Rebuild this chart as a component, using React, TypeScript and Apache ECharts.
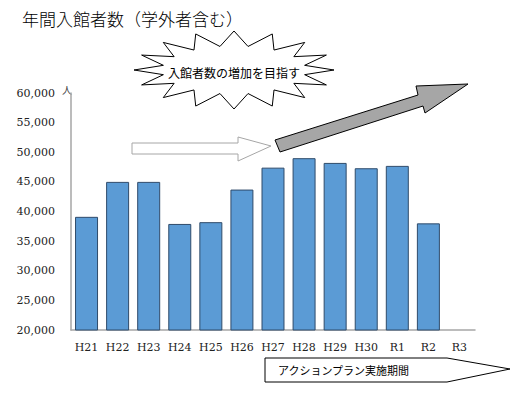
import React, { useEffect, useRef } from "react";
import * as echarts from "echarts";

const categories = ["H21", "H22", "H23", "H24", "H25", "H26", "H27", "H28", "H29", "H30", "R1", "R2", "R3"];
const visitors: (number | null)[] = [39100, 45000, 45000, 37900, 38200, 43700, 47400, 49000, 48200, 47300, 47700, 38000, null];
const yMin = 20000;
const yMax = 60000;
const yInterval = 5000;
const titleText = "年間入館者数（学外者含む）";
const burstText = "入館者数の増加を目指す";
const periodText = "アクションプラン実施期間";
const unitText = "人";

function starPoints(cx: number, cy: number, rxo: number, ryo: number, rxi: number, ryi: number, n: number) {
  const pts: number[][] = [];
  for (let i = 0; i < n * 2; i++) {
    const a = (Math.PI * i) / n - Math.PI / 2;
    const outer = i % 2 === 0;
    const rx = outer ? rxo : rxi;
    const ry = outer ? ryo : ryi;
    pts.push([cx + rx * Math.cos(a), cy + ry * Math.sin(a)]);
  }
  return pts;
}

export default function App() {
  const ref = useRef<HTMLDivElement>(null);
  useEffect(() => {
    if (!ref.current) return;
    const chart = echarts.init(ref.current, undefined, { renderer: "svg" });
    const serif = "DejaVu Serif";
    const cjk = "Noto Sans CJK JP";
    chart.setOption({
      animation: false,
      backgroundColor: "#ffffff",
      grid: { left: 71, right: 54, top: 93, bottom: 67 },
      xAxis: {
        type: "category",
        data: categories,
        axisTick: { show: false },
        axisLine: { lineStyle: { color: "#a6a6a6", width: 1.5 } },
        axisLabel: { color: "#222", fontFamily: serif, fontSize: 11, margin: 12, interval: 0 },
      },
      yAxis: {
        type: "value",
        min: yMin,
        max: yMax,
        interval: yInterval,
        splitLine: { show: false },
        axisTick: { show: false },
        axisLine: { show: true, lineStyle: { color: "#a6a6a6", width: 1.5 } },
        axisLabel: {
          color: "#222",
          fontFamily: serif,
          fontSize: 11,
          margin: 16,
          formatter: (v: number) => v.toLocaleString("en-US"),
        },
      },
      series: [
        {
          type: "bar",
          data: visitors,
          barCategoryGap: "26%",
          itemStyle: { color: "#5b9bd5", borderColor: "#2f4b6a", borderWidth: 1 },
        },
      ],
      graphic: [
        {
          type: "text",
          left: 22,
          top: 10,
          style: { text: titleText, fontFamily: cjk, fontSize: 17, fontWeight: 300, fill: "#000" },
        },
        {
          type: "text",
          x: 62,
          y: 84,
          style: { text: unitText, fontFamily: cjk, fontSize: 10, fill: "#444" },
        },
        {
          type: "polygon",
          shape: { points: starPoints(234, 70, 100, 39, 72, 24, 16) },
          style: { fill: "#ffffff", stroke: "#000", lineWidth: 1 },
          z: 10,
        },
        {
          type: "text",
          x: 234,
          y: 72,
          style: {
            text: burstText,
            fontFamily: cjk,
            fontSize: 12,
            fill: "#000",
            align: "center",
            verticalAlign: "middle",
          },
          z: 11,
        },
        {
          type: "polygon",
          shape: {
            points: [
              [132, 143],
              [238, 143],
              [238, 137],
              [271, 146],
              [238, 161],
              [238, 154],
              [132, 154],
            ],
          },
          style: { fill: "#ffffff", stroke: "#a6a6a6", lineWidth: 1 },
          z: 10,
        },
        {
          type: "polygon",
          shape: {
            points: [
              [275, 140],
              [418, 95],
              [416, 86],
              [468, 84],
              [425, 113],
              [423, 106],
              [280, 152],
            ],
          },
          style: { fill: "#a6a6a6", stroke: "#000", lineWidth: 1 },
          z: 10,
        },
        {
          type: "polygon",
          shape: {
            points: [
              [265, 358],
              [447, 358],
              [510, 369],
              [447, 382],
              [265, 382],
            ],
          },
          style: { fill: "#ffffff", stroke: "#000", lineWidth: 1 },
          z: 10,
        },
        {
          type: "text",
          x: 278,
          y: 370,
          style: {
            text: periodText,
            fontFamily: cjk,
            fontSize: 11,
            fill: "#000",
            verticalAlign: "middle",
          },
          z: 11,
        },
      ],
    });
    return () => chart.dispose();
  }, []);
  return (
    <div
      ref={ref}
      style={{ position: "fixed", left: 0, top: 0, width: 529, height: 397, background: "#fff" }}
    />
  );
}
